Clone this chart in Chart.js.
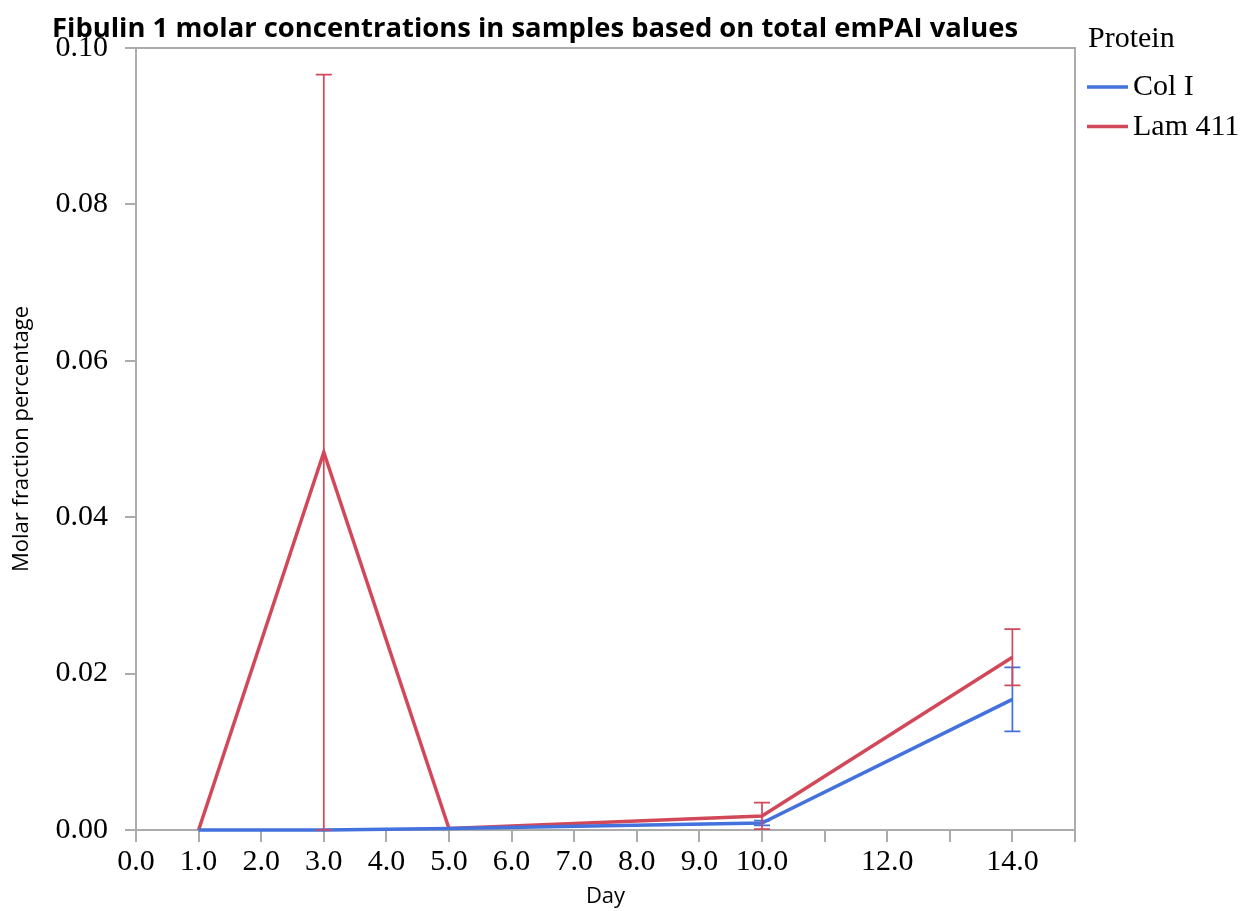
<!DOCTYPE html>
<html>
<head>
<meta charset="utf-8">
<script src="https://cdn.jsdelivr.net/npm/chart.js@4.4.0/dist/chart.umd.min.js"></script>
<style>
  html, body { margin: 0; padding: 0; background: #fff; }
</style>
</head>
<body>
<canvas id="chart" width="1245" height="911"></canvas>
<script>
// Sampling days and mean molar fraction (with +/- error) per protein coating
const days = [1, 3, 5, 10, 14];
const proteinNames = ['Col I', 'Lam 411'];
const colIMean = [0, 0, 0.0002, 0.0009, 0.0167];
const colIErr = [0, 0, 0, 0.0003, 0.0041];
const lamMean = [0, 0.0483, 0.0002, 0.0018, 0.0221];
const lamErr = [0, 0.0483, 0, 0.0017, 0.0036];
const labelledDays = [0, 1, 2, 3, 4, 5, 6, 7, 8, 9, 10, 12, 14];

const chartTitle = 'Fibulin 1 molar concentrations in samples based on total emPAI values';
const legendTitle = 'Protein';

const BLUE = '#4371DD';
const RED = '#D14859';
const AXIS = '#ababab';
const SERIF = '"Liberation Serif", "Times New Roman", serif';
const SANS = '"Open Sans", "Noto Sans", sans-serif';

function toPoints(means) {
    return days.map((d, i) => ({ x: d, y: means[i] }));
}

// Vertical error bars with caps, placed through the chart scales
const errorBars = {
    id: 'errorBars',
    afterDatasetsDraw(chart) {
        const ctx = chart.ctx;
        const xs = chart.scales.x;
        const ys = chart.scales.y;
        chart.data.datasets.forEach(ds => {
            ctx.save();
            ctx.strokeStyle = ds.borderColor;
            ctx.lineWidth = 1.7;
            days.forEach((d, i) => {
                const err = ds.errors[i];
                if (!err) return;
                const px = xs.getPixelForValue(d);
                const top = ys.getPixelForValue(ds.means[i] + err);
                const bot = ys.getPixelForValue(Math.max(0, ds.means[i] - err));
                ctx.beginPath();
                ctx.moveTo(px, top);
                ctx.lineTo(px, bot);
                ctx.moveTo(px - 8, top);
                ctx.lineTo(px + 8, top);
                ctx.moveTo(px - 8, bot);
                ctx.lineTo(px + 8, bot);
                ctx.stroke();
            });
            ctx.restore();
        });
    }
};

// Box frame, heading and the side legend
const decorations = {
    id: 'decorations',
    afterDraw(chart) {
        const ctx = chart.ctx;
        const area = chart.chartArea;
        ctx.save();

        ctx.strokeStyle = AXIS;
        ctx.lineWidth = 2;
        ctx.beginPath();
        ctx.moveTo(area.left, area.top);
        ctx.lineTo(area.right, area.top);
        ctx.lineTo(area.right, area.bottom);
        ctx.stroke();

        ctx.fillStyle = '#000';
        ctx.textBaseline = 'alphabetic';
        ctx.textAlign = 'left';
        ctx.font = 'bold 27.5px ' + SANS;
        ctx.fillText(chartTitle, 52, 37, 966);

        const lx = area.right + 12;
        ctx.font = '30px ' + SERIF;
        ctx.fillText(legendTitle, lx + 1, 47);
        chart.data.datasets.forEach((ds, i) => {
            const y = 87 + i * 39.5;
            ctx.strokeStyle = ds.borderColor;
            ctx.lineWidth = 3.5;
            ctx.beginPath();
            ctx.moveTo(lx, y);
            ctx.lineTo(lx + 41, y);
            ctx.stroke();
            ctx.fillStyle = '#000';
            ctx.fillText(ds.label, lx + 46, y + 8);
        });
        ctx.restore();
    }
};

new Chart(document.getElementById('chart'), {
    type: 'line',
    data: {
        datasets: [
            {
                label: proteinNames[0],
                data: toPoints(colIMean),
                means: colIMean,
                errors: colIErr,
                borderColor: BLUE,
                backgroundColor: BLUE,
                borderWidth: 3.5,
                pointRadius: 0,
                tension: 0,
                clip: false
            },
            {
                label: proteinNames[1],
                data: toPoints(lamMean),
                means: lamMean,
                errors: lamErr,
                borderColor: RED,
                backgroundColor: RED,
                borderWidth: 3.5,
                pointRadius: 0,
                tension: 0,
                clip: false
            }
        ]
    },
    options: {
        responsive: false,
        devicePixelRatio: 1,
        animation: false,
        layout: { padding: { top: 48, right: 170, left: 0, bottom: 0 } },
        plugins: {
            legend: { display: false },
            tooltip: { enabled: false }
        },
        scales: {
            x: {
                type: 'linear',
                min: 0,
                max: 15,
                afterFit: s => { s.height = 81; },
                ticks: {
                    stepSize: 1,
                    autoSkip: false,
                    maxRotation: 0,
                    includeBounds: false,
                    padding: 2,
                    color: '#000',
                    font: { family: SERIF, size: 30 },
                    callback: v => labelledDays.includes(v) ? v.toFixed(1) : ''
                },
                grid: { drawOnChartArea: false, tickLength: 12, color: AXIS, lineWidth: 2 },
                border: { color: AXIS, width: 2 },
                title: {
                    display: true,
                    text: 'Day',
                    color: '#000',
                    font: { family: SANS, size: 22 },
                    padding: { top: 0, bottom: 1 }
                }
            },
            y: {
                min: 0,
                max: 0.1,
                afterFit: s => { s.width = 136; },
                ticks: {
                    stepSize: 0.02,
                    padding: 17,
                    color: '#000',
                    font: { family: SERIF, size: 30 },
                    callback: v => v.toFixed(2)
                },
                grid: { drawOnChartArea: false, tickLength: 11, color: AXIS, lineWidth: 2 },
                border: { color: AXIS, width: 2 },
                title: {
                    display: true,
                    text: 'Molar fraction percentage',
                    color: '#000',
                    font: { family: SANS, size: 22 },
                    padding: { top: 9 }
                }
            }
        }
    },
    plugins: [errorBars, decorations]
});
</script>
</body>
</html>
